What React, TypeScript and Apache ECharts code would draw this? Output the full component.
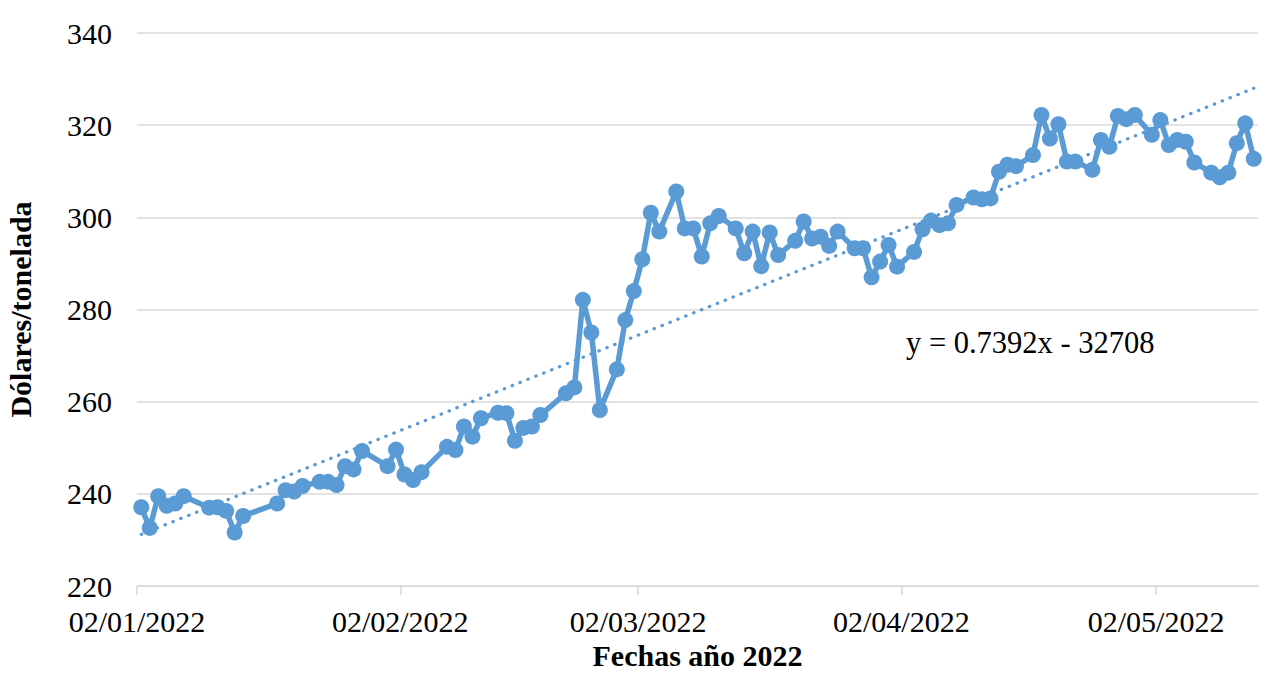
import React, { useEffect, useRef } from 'react';
import * as echarts from 'echarts';

// fechas de cotización (año 2022) y precio en dólares/tonelada
const dates = [
  '2022-01-02', '2022-01-03', '2022-01-04', '2022-01-05', '2022-01-06', '2022-01-07',
  '2022-01-10', '2022-01-11', '2022-01-12', '2022-01-13', '2022-01-14',
  '2022-01-18', '2022-01-19', '2022-01-20', '2022-01-21',
  '2022-01-23', '2022-01-24', '2022-01-25', '2022-01-26', '2022-01-27', '2022-01-28',
  '2022-01-31', '2022-02-01', '2022-02-02', '2022-02-03', '2022-02-04',
  '2022-02-07', '2022-02-08', '2022-02-09', '2022-02-10', '2022-02-11',
  '2022-02-13', '2022-02-14', '2022-02-15', '2022-02-16', '2022-02-17', '2022-02-18',
  '2022-02-21', '2022-02-22', '2022-02-23', '2022-02-24', '2022-02-25',
  '2022-02-27', '2022-02-28', '2022-03-01', '2022-03-02', '2022-03-03', '2022-03-04',
  '2022-03-06', '2022-03-07', '2022-03-08', '2022-03-09', '2022-03-10', '2022-03-11',
  '2022-03-13', '2022-03-14', '2022-03-15', '2022-03-16', '2022-03-17', '2022-03-18',
  '2022-03-20', '2022-03-21', '2022-03-22', '2022-03-23', '2022-03-24', '2022-03-25',
  '2022-03-27', '2022-03-28', '2022-03-29', '2022-03-30', '2022-03-31', '2022-04-01',
  '2022-04-03', '2022-04-04', '2022-04-05', '2022-04-06', '2022-04-07', '2022-04-08',
  '2022-04-10', '2022-04-11', '2022-04-12', '2022-04-13', '2022-04-14', '2022-04-15',
  '2022-04-17', '2022-04-18', '2022-04-19', '2022-04-20', '2022-04-21', '2022-04-22',
  '2022-04-24', '2022-04-25', '2022-04-26', '2022-04-27', '2022-04-28', '2022-04-29',
  '2022-05-01', '2022-05-02', '2022-05-03', '2022-05-04', '2022-05-05', '2022-05-06',
  '2022-05-08', '2022-05-09', '2022-05-10', '2022-05-11', '2022-05-12', '2022-05-13',
];

const prices = [
  237.1, 232.6, 239.5, 237.4, 237.9, 239.5,
  237.0, 237.1, 236.3, 231.6, 235.2,
  237.9, 240.8, 240.5, 241.7,
  242.6, 242.6, 241.9, 246.0, 245.3, 249.3,
  246.0, 249.6, 244.2, 243.0, 244.7,
  250.2, 249.5, 254.6, 252.4, 256.4,
  257.6, 257.5, 251.5, 254.3, 254.6, 257.1,
  261.8, 263.1, 282.1, 275.0, 258.2,
  267.0, 277.7, 284.0, 290.9, 301.0, 296.9,
  305.6, 297.6, 297.6, 291.5, 298.7, 300.3,
  297.6, 292.2, 296.9, 289.4, 296.7, 291.8,
  294.9, 299.1, 295.4, 295.8, 293.8, 296.9,
  293.3, 293.3, 287.0, 290.4, 294.0, 289.3,
  292.5, 297.4, 299.3, 298.3, 298.7, 302.7,
  304.3, 303.9, 304.1, 309.9, 311.4, 311.1,
  313.5, 322.2, 317.1, 320.2, 312.1, 312.1,
  310.3, 316.8, 315.3, 322.0, 321.3, 322.2,
  317.9, 321.1, 315.7, 316.8, 316.4, 311.9,
  309.7, 308.7, 309.7, 316.1, 320.4, 312.7,
];

// línea de tendencia (lineal), extremos
const trendDates = ['2022-01-02', '2022-05-13'];
const trendValues = [231.2, 328.0];
const trendLabel = 'y = 0.7392x - 32708';

const tickDates = ['2022-01-02', '2022-02-02', '2022-03-02', '2022-04-02', '2022-05-02'];
const axisStart = '2022-01-02';
const axisEnd = '2022-05-14';

const yMin = 220;
const yMax = 340;
const yStep = 20;

const DAY = 86400000;
const toMs = (d: string) => {
  const [y, m, dd] = d.split('-').map(Number);
  return Date.UTC(y, m - 1, dd);
};
const pad = (n: number) => (n < 10 ? '0' + n : '' + n);

const FONT = "'Liberation Serif', 'Times New Roman', serif";
const BLUE = '#5B9BD5';

export default function App() {
  const chartRef = useRef<HTMLDivElement>(null);

  useEffect(() => {
    if (!chartRef.current) return;
    const chart = echarts.init(chartRef.current, null, { renderer: 'svg' });

    const ticks = tickDates.map(toMs);

    chart.setOption({
      animation: false,
      backgroundColor: '#fff',
      textStyle: { fontFamily: FONT },
      grid: { left: 137, right: 19, top: 33, bottom: 108, containLabel: false, outerBoundsMode: 'none' },
      xAxis: {
        type: 'value',
        min: toMs(axisStart),
        max: toMs(axisEnd),
        name: 'Fechas año 2022',
        nameLocation: 'middle',
        nameGap: 54,
        nameTextStyle: { fontFamily: FONT, fontSize: 30, fontWeight: 'bold', color: '#000' },
        splitLine: { show: false },
        axisLine: { show: true, lineStyle: { color: '#D9D9D9', width: 1.5 } },
        axisTick: {
          show: true,
          customValues: ticks,
          length: 9,
          lineStyle: { color: '#D9D9D9', width: 1.5 },
        },
        axisLabel: {
          customValues: ticks,
          fontFamily: FONT,
          fontSize: 30,
          color: '#000',
          margin: 20,
          formatter: (v: number) => {
            const d = new Date(v);
            return pad(d.getUTCDate()) + '/' + pad(d.getUTCMonth() + 1) + '/' + d.getUTCFullYear();
          },
        },
      },
      yAxis: {
        type: 'value',
        min: yMin,
        max: yMax,
        interval: yStep,
        name: 'Dólares/tonelada',
        nameLocation: 'middle',
        nameGap: 102,
        nameTextStyle: { fontFamily: FONT, fontSize: 30, fontWeight: 'bold', color: '#000' },
        axisLine: { show: false },
        axisTick: { show: false },
        axisLabel: { fontFamily: FONT, fontSize: 30, color: '#000', margin: 25 },
        splitLine: { lineStyle: { color: '#D9D9D9', width: 1.5 } },
      },
      graphic: [
        {
          type: 'text',
          left: 906,
          top: 327,
          style: { text: trendLabel, font: `30.5px ${FONT}`, fill: '#000' },
        },
      ],
      series: [
        {
          type: 'line',
          data: dates.map((d, i) => [toMs(d) + DAY / 2, prices[i]]),
          symbol: 'circle',
          symbolSize: 16,
          showSymbol: true,
          lineStyle: { color: BLUE, width: 5.5, join: 'round' },
          itemStyle: { color: BLUE },
          z: 2,
        },
        {
          type: 'line',
          data: trendDates.map((d, i) => [toMs(d) + DAY / 2, trendValues[i]]),
          symbol: 'none',
          lineStyle: { color: BLUE, width: 3.2, type: [0.5, 8], cap: 'round' },
          z: 3,
        },
      ],
    });

    return () => chart.dispose();
  }, []);

  return (
    <div
      ref={chartRef}
      style={{ position: 'fixed', left: 0, top: 0, width: 1277, height: 694 }}
    />
  );
}
